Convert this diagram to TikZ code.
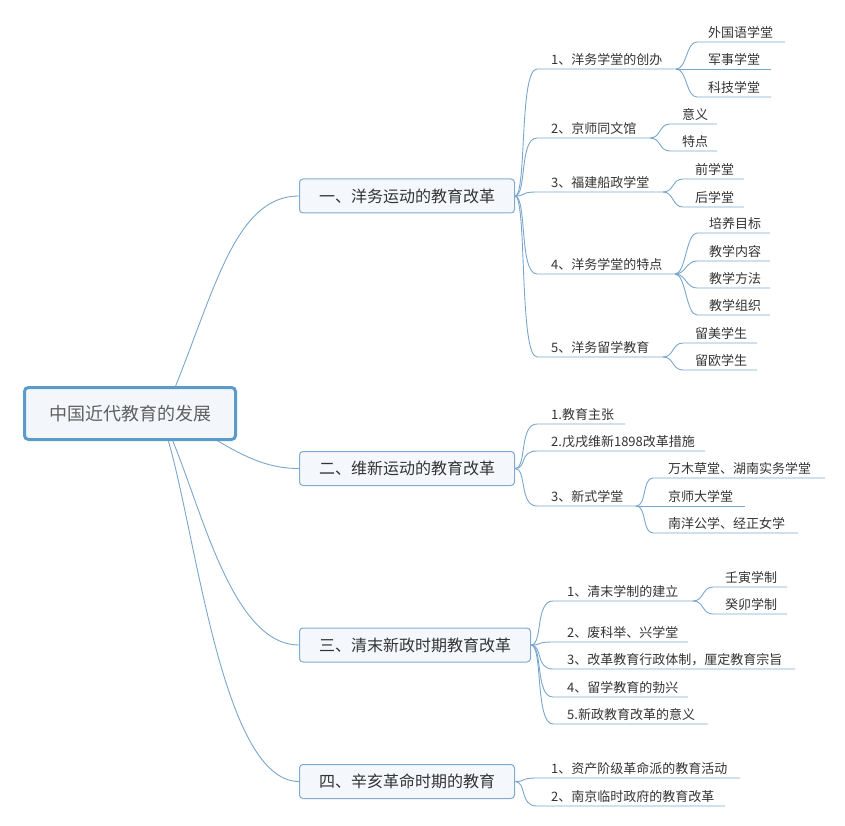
\documentclass[tikz,border=0pt]{standalone}
\usepackage{fontspec}
\setmainfont{Noto Sans CJK SC}
\usetikzlibrary{calc,backgrounds}
\definecolor{linkc}{HTML}{7AA6CC}
\definecolor{rootb}{HTML}{5B9BCA}
\definecolor{rootf}{HTML}{F3F7FC}
\definecolor{boxb}{HTML}{82AACD}
\definecolor{boxf}{HTML}{F4F8FD}
\definecolor{txt}{HTML}{333333}
\definecolor{roott}{HTML}{606060}
\tikzset{
  link/.style={draw=linkc, line width=0.9pt},
  sA/.style={to path={.. controls ($(\tikztostart)+(12,0)$) and ($(\tikztotarget)+(-18,0)$) .. (\tikztotarget)}},
  sB/.style={to path={.. controls ($(\tikztostart)+(11,0)$) and ($(\tikztotarget)+(-11,0)$) .. (\tikztotarget)}},
  rootbox/.style={draw=rootb, line width=3pt, fill=rootf, rounded corners=4pt, minimum width=211pt, minimum height=52pt, inner sep=0pt, text=roott, font=\fontsize{18pt}{18pt}\selectfont},
  mainbox/.style={draw=boxb, line width=1pt, fill=boxf, rounded corners=3.5pt, minimum height=34pt, inner sep=0pt, text=txt, font=\fontsize{16pt}{16pt}\selectfont},
  leaf/.style={anchor=base west, inner sep=0pt, text=txt, font=\fontsize{13pt}{13pt}\selectfont},
}
\begin{document}
\begin{tikzpicture}[x=1pt,y=-1pt]
\useasboundingbox (0,0) rectangle (845,826);
% root and main boxes
\node[rootbox] (root) at (130,413.5) {中国近代教育的发展};
\node[mainbox, minimum width=215pt] (A) at (407,196) {一、洋务运动的教育改革};
\node[mainbox, minimum width=215pt] (B) at (407,468.5) {二、维新运动的教育改革};
\node[mainbox, minimum width=231pt] (C) at (415,645) {三、清末新政时期教育改革};
\node[mainbox, minimum width=215pt] (D) at (407,781.5) {四、辛亥革命时期的教育};
% ---- branch A
\coordinate (a1s) at (537,69);  \coordinate (a1e) at (676,69);
\node[leaf] (a1) at (551,64.5) {1、洋务学堂的创办};
\coordinate (a11s) at (697,42); \coordinate (a11e) at (785,42);
\node[leaf] (a11) at (708,37.5) {外国语学堂};
\coordinate (a12e) at (771,69);
\node[leaf] (a12) at (708,64.5) {军事学堂};
\coordinate (a13s) at (697,97); \coordinate (a13e) at (771,97);
\node[leaf] (a13) at (708,92.5) {科技学堂};
\coordinate (a2s) at (537,138); \coordinate (a2e) at (650,138);
\node[leaf] (a2) at (551,133.5) {2、京师同文馆};
\coordinate (a21s) at (670,124); \coordinate (a21e) at (717,124);
\node[leaf] (a21) at (682,119.5) {意义};
\coordinate (a22s) at (670,151); \coordinate (a22e) at (717,151);
\node[leaf] (a22) at (682,146.5) {特点};
\coordinate (a3s) at (537,192); \coordinate (a3e) at (663,192);
\node[leaf] (a3) at (551,187.5) {3、福建船政学堂};
\coordinate (a31s) at (683,179); \coordinate (a31e) at (744,179);
\node[leaf] (a31) at (695,174.5) {前学堂};
\coordinate (a32s) at (683,207); \coordinate (a32e) at (744,207);
\node[leaf] (a32) at (695,202.5) {后学堂};
\coordinate (a4s) at (537,274); \coordinate (a4e) at (675,274);
\node[leaf] (a4) at (551,269.5) {4、洋务学堂的特点};
\coordinate (a41s) at (697,233); \coordinate (a41e) at (770,233);
\node[leaf] (a41) at (709,228.5) {培养目标};
\coordinate (a42s) at (697,261); \coordinate (a42e) at (770,261);
\node[leaf] (a42) at (709,256.5) {教学内容};
\coordinate (a43s) at (697,288); \coordinate (a43e) at (770,288);
\node[leaf] (a43) at (709,283.5) {教学方法};
\coordinate (a44s) at (697,315); \coordinate (a44e) at (770,315);
\node[leaf] (a44) at (709,310.5) {教学组织};
\coordinate (a5s) at (537,357); \coordinate (a5e) at (663,357);
\node[leaf] (a5) at (551,352.5) {5、洋务留学教育};
\coordinate (a51s) at (683,343); \coordinate (a51e) at (757,343);
\node[leaf] (a51) at (695,338.5) {留美学生};
\coordinate (a52s) at (683,370); \coordinate (a52e) at (757,370);
\node[leaf] (a52) at (695,365.5) {留欧学生};
% ---- branch B
\coordinate (b1s) at (537,424); \coordinate (b1e) at (625,424);
\node[leaf] (b1) at (551,419.5) {1.教育主张};
\coordinate (b2s) at (537,451); \coordinate (b2e) at (705,451);
\node[leaf] (b2) at (551,446.5) {2.戊戌维新1898改革措施};
\coordinate (b3s) at (537,506); \coordinate (b3e) at (636,506);
\node[leaf] (b3) at (551,501.5) {3、新式学堂};
\coordinate (b31s) at (653,478); \coordinate (b31e) at (825,478);
\node[leaf] (b31) at (668,473.5) {万木草堂、湖南实务学堂};
\coordinate (b32e) at (745,506);
\node[leaf] (b32) at (668,501.5) {京师大学堂};
\coordinate (b33s) at (653,533); \coordinate (b33e) at (798,533);
\node[leaf] (b33) at (668,528.5) {南洋公学、经正女学};
% ---- branch C
\coordinate (c1s) at (553,601); \coordinate (c1e) at (693,601);
\node[leaf] (c1) at (567,596.5) {1、清末学制的建立};
\coordinate (c11s) at (713,587); \coordinate (c11e) at (787,587);
\node[leaf] (c11) at (725,582.5) {壬寅学制};
\coordinate (c12s) at (713,614); \coordinate (c12e) at (787,614);
\node[leaf] (c12) at (725,609.5) {癸卯学制};
\coordinate (c2s) at (553,642); \coordinate (c2e) at (688,642);
\node[leaf] (c2) at (567,637.5) {2、废科举、兴学堂};
\coordinate (c3s) at (553,669); \coordinate (c3e) at (795,669);
\node[leaf] (c3) at (567,664.5) {3、改革教育行政体制，厘定教育宗旨};
\coordinate (c4s) at (553,697); \coordinate (c4e) at (688,697);
\node[leaf] (c4) at (567,692.5) {4、留学教育的勃兴};
\coordinate (c5s) at (553,724); \coordinate (c5e) at (708,724);
\node[leaf] (c5) at (567,719.5) {5.新政教育改革的意义};
% ---- branch D
\coordinate (d1s) at (537,778); \coordinate (d1e) at (740,778);
\node[leaf] (d1) at (551,773.5) {1、资产阶级革命派的教育活动};
\coordinate (d2s) at (537,806); \coordinate (d2e) at (725,806);
\node[leaf] (d2) at (551,801.5) {2、南京临时政府的教育改革};
% ---- connectors
\begin{scope}[on background layer]
\draw[link] ($(root.center)+(42,-18.5)$) .. controls (215,290) and (235,196) .. (A.west);
\draw[link] ($(root.center)+(70,16.5)$) .. controls (240,455) and (265,468.5) .. (B.west);
\draw[link] ($(root.center)+(38,16.5)$) .. controls (200,500) and (230,645) .. (C.west);
\draw[link] ($(root.center)+(35,16.5)$) .. controls (195,520) and (220,781.5) .. (D.west);
% A
\foreach \k in {a1,a2,a3,a4,a5} {\draw[link] (A.east) to[sA] (\k s) -- (\k e);}
\draw[link] (a1e) to[sB] (a11s) -- (a11e);
\draw[link] (a1e) -- (a12e);
\draw[link] (a1e) to[sB] (a13s) -- (a13e);
\draw[link] (a2e) to[sB] (a21s) -- (a21e);
\draw[link] (a2e) to[sB] (a22s) -- (a22e);
\draw[link] (a3e) to[sB] (a31s) -- (a31e);
\draw[link] (a3e) to[sB] (a32s) -- (a32e);
\foreach \k in {a41,a42,a43,a44} {\draw[link] (a4e) to[sB] (\k s) -- (\k e);}
\draw[link] (a5e) to[sB] (a51s) -- (a51e);
\draw[link] (a5e) to[sB] (a52s) -- (a52e);
% B
\foreach \k in {b1,b2,b3} {\draw[link] (B.east) to[sA] (\k s) -- (\k e);}
\draw[link] (b3e) to[sB] (b31s) -- (b31e);
\draw[link] (b3e) -- (b32e);
\draw[link] (b3e) to[sB] (b33s) -- (b33e);
% C
\foreach \k in {c1,c2,c3,c4,c5} {\draw[link] (C.east) to[sA] (\k s) -- (\k e);}
\draw[link] (c1e) to[sB] (c11s) -- (c11e);
\draw[link] (c1e) to[sB] (c12s) -- (c12e);
% D
\foreach \k in {d1,d2} {\draw[link] (D.east) to[sA] (\k s) -- (\k e);}
\end{scope}
\end{tikzpicture}
\end{document}
